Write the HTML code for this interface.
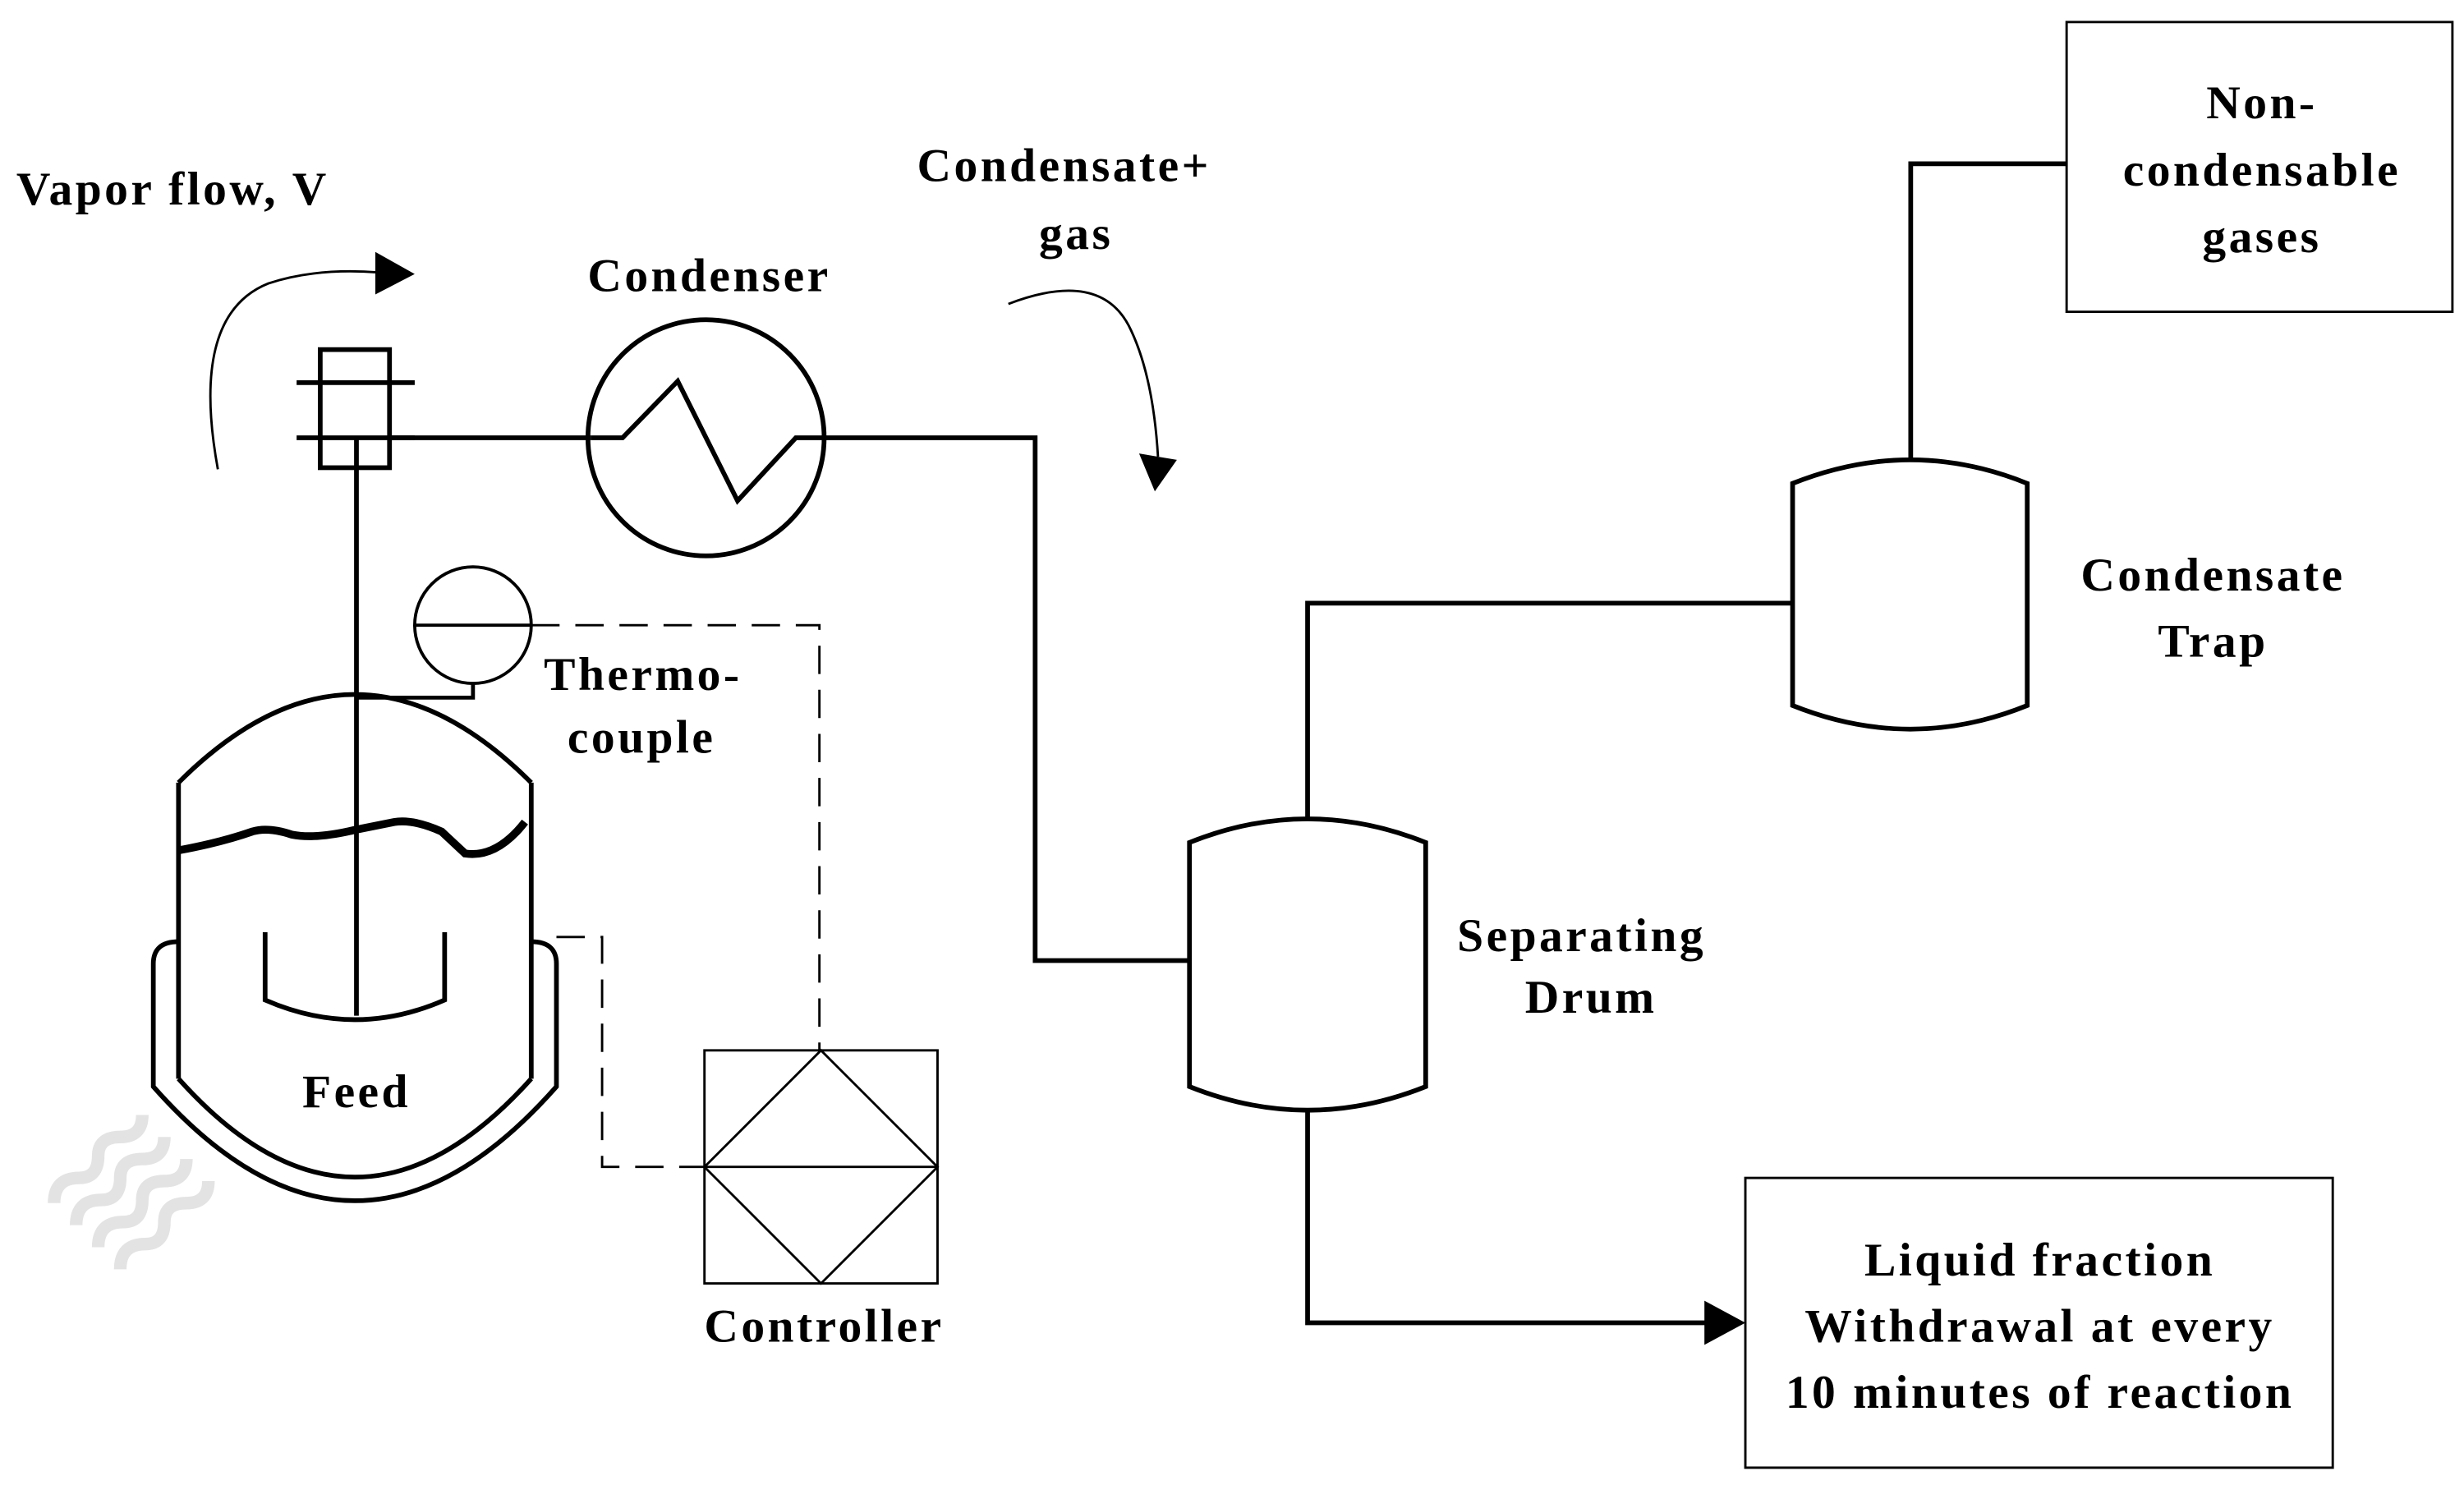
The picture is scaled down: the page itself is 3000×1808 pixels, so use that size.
<!DOCTYPE html>
<html><head><meta charset="utf-8"><style>
html,body{margin:0;padding:0;background:#fff;}
svg{display:block;}
text{font-family:"Liberation Serif",serif;font-weight:bold;font-size:30px;fill:#000;letter-spacing:1.8px;}
</style></head><body>
<svg width="3000" height="1808" viewBox="0 0 1564 943" xmlns="http://www.w3.org/2000/svg">
<rect width="1564" height="943" fill="#fff"/>
<g fill="none" stroke="#000" stroke-width="3">
<rect x="203" y="222" width="44" height="75"/>
<line x1="188" y1="243" x2="263" y2="243"/>
<line x1="188" y1="278" x2="263" y2="278"/>
<line x1="226" y1="278" x2="226" y2="645"/>
<line x1="247" y1="278" x2="375" y2="278"/>
<circle cx="448" cy="278" r="75"/>
<polyline points="375,278 395,278 430,242 468,318 505,278 523,278"/>
<polyline points="523,278 657,278 657,610 755,610"/>
<path d="M113,497 Q225,385 337,497"/>
<line x1="113" y1="497" x2="113" y2="685"/>
<line x1="337" y1="497" x2="337" y2="685"/>
<path d="M113,685 Q225,810 337,685"/>
<path d="M113,598 Q97,598 97,612 L97,690 Q225,835 353,690 L353,612 Q353,598 337,598"/>
<path d="M168,592 L168,635 Q225,660 282,635 L282,592"/>
<circle cx="300" cy="397" r="37" stroke-width="2"/>
<line x1="263" y1="397" x2="337" y2="397" stroke-width="2"/>
<polyline points="300,434 300,443 226,443" stroke-width="2.5"/>
<rect x="447" y="667" width="148" height="148" stroke-width="1.5"/>
<polygon points="521,667 595,741 521,815 447,741" stroke-width="1.5"/>
<line x1="447" y1="741" x2="595" y2="741" stroke-width="1.5"/>
<path d="M755,535 Q830,505 905,535 L905,690 Q830,720 755,690 Z"/>
<polyline points="830,521 830,383 1138,383"/>
<polyline points="830,705 830,840 1085,840"/>
<path d="M1138,307 Q1213,277 1287,307 L1287,448 Q1213,478 1138,448 Z"/>
<polyline points="1213,292 1213,104 1312,104"/>
<rect x="1312" y="14" width="245" height="184" stroke-width="1.5"/>
<rect x="1108" y="748" width="373" height="184" stroke-width="1.5"/>
</g>
<path d="M113,540 Q140,535 160,528 Q170,525 185,530 Q200,533 225,527 L250,522 Q262,520 280,528 L295,542 Q315,545 333,522" fill="none" stroke="#000" stroke-width="5"/>
<g fill="none" stroke="#000" stroke-width="1.5" stroke-dasharray="18,10">
<polyline points="337,397 520,397 520,667"/>
<polyline points="353,595 382,595 382,741 447,741"/>
</g>
<path d="M138,298 Q120,200 170,180 Q200,170 240,173" fill="none" stroke="#000" stroke-width="1.5"/>
<polygon points="238,160 263,174 238,187" fill="#000"/>
<path d="M640,193 Q700,170 718,210 Q732,240 735,290" fill="none" stroke="#000" stroke-width="1.5"/>
<polygon points="723,288 747,292 733,312" fill="#000"/>
<polygon points="1082,826 1108,840 1082,854" fill="#000"/>
<g fill="none" stroke="#e3e3e3" stroke-width="8">
<path id="w" d="M34,764 Q34,748 50,748 Q62,748 62,734 Q62,722 76,722 Q90,722 90,708"/>
<use href="#w" x="14" y="14"/>
<use href="#w" x="28" y="28"/>
<use href="#w" x="42" y="42"/>
</g>
<text x="10" y="130">Vapor flow, V</text>
<text x="450" y="185" text-anchor="middle">Condenser</text>
<text x="582" y="115">Condensate+</text>
<text x="683" y="158" text-anchor="middle">gas</text>
<text x="345" y="438">Thermo-</text>
<text x="360" y="478">couple</text>
<text x="226" y="703" text-anchor="middle">Feed</text>
<text x="523" y="852" text-anchor="middle">Controller</text>
<text x="925" y="604">Separating</text>
<text x="1010" y="643" text-anchor="middle">Drum</text>
<text x="1405" y="375" text-anchor="middle">Condensate</text>
<text x="1405" y="417" text-anchor="middle">Trap</text>
<text x="1436" y="75" text-anchor="middle">Non-</text>
<text x="1436" y="118" text-anchor="middle">condensable</text>
<text x="1436" y="160" text-anchor="middle">gases</text>
<text x="1295" y="810" text-anchor="middle">Liquid fraction</text>
<text x="1295" y="852" text-anchor="middle">Withdrawal at every</text>
<text x="1295" y="894" text-anchor="middle">10 minutes of reaction</text>
</svg>
</body></html>
